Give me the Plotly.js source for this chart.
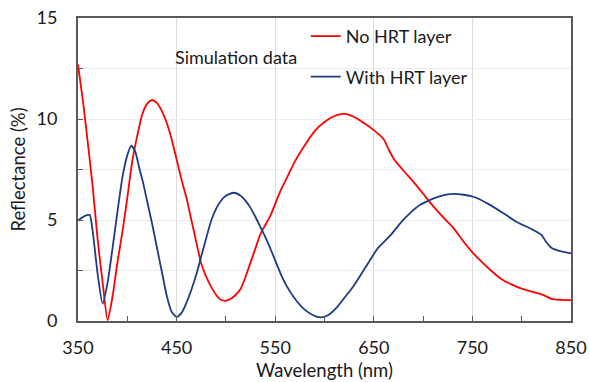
<!DOCTYPE html>
<html>
<head>
<meta charset="utf-8">
<script src="https://cdn.plot.ly/plotly-3.0.1.min.js"></script>
<style>html,body{margin:0;padding:0;background:#fff;}#chart{width:589px;height:382px;}</style>
</head>
<body>
<div id="chart"></div>
<script>
// Wavelength (nm) and reflectance (%)
const redWl = [350,355,360,365,370,375,380,385,390,395,400,405,410,415,420,425,430,435,440,445,450,455,460,465,470,475,480,485,490,495,500,505,510,515,520,525,530,535,540,545,550,555,560,570,580,590,600,610,620,630,640,650,660,665,670,680,690,700,710,720,730,740,750,760,770,780,790,800,810,820,825,830,840,850];
const redR  = [12.7,10.9,8.8,6.6,4.0,1.9,0.05,1.2,2.9,4.4,6.1,7.9,9.15,10.2,10.75,10.94,10.8,10.4,9.8,9.0,8.0,7.0,6.1,5.0,3.9,2.85,2.2,1.7,1.3,1.05,1.0,1.1,1.3,1.6,2.2,2.9,3.6,4.3,4.75,5.2,5.8,6.4,6.9,7.9,8.7,9.4,9.85,10.15,10.25,10.1,9.8,9.45,9.0,8.5,8.05,7.45,6.9,6.3,5.7,5.15,4.65,4.0,3.4,2.9,2.45,2.05,1.8,1.6,1.45,1.32,1.22,1.1,1.05,1.03];

const blueWl = [350,355,360,362,365,370,375,380,385,390,395,400,404,408,412,416,420,425,430,435,440,445,450,455,460,465,470,475,480,485,490,495,500,508,515,520,525,530,535,540,545,550,555,562,570,579,588,596,604,613,621,629,637,646,654,662,668,677,687,697,705,715,725,731,741,751,766,781,795,810,820,825,830,840,850];
const blueR  = [4.97,5.15,5.25,5.25,4.4,2.3,0.85,1.9,3.6,5.4,7.1,8.2,8.68,8.4,7.6,6.85,5.95,4.85,3.65,2.45,1.25,0.45,0.2,0.4,0.9,1.55,2.3,3.2,4.1,4.95,5.55,5.95,6.2,6.35,6.2,5.95,5.6,5.15,4.65,4.15,3.6,3.0,2.4,1.7,1.1,0.6,0.3,0.18,0.3,0.7,1.2,1.7,2.3,3.0,3.6,4.0,4.3,4.85,5.35,5.75,5.95,6.15,6.27,6.29,6.25,6.15,5.8,5.35,4.9,4.55,4.26,3.9,3.63,3.45,3.35];

const xTicks = [350,450,550,650,750,850];
const yTicks = [0,5,10,15];
const names = ["No HRT layer","With HRT layer"];

const fontFam = "Lato, 'Open Sans', sans-serif";
const txt = "#1a1a1a";

const traces = [
  {x: redWl, y: redR, name: names[0], mode: "lines", legendgroup: "a",
   line: {color: "#ff0000", width: 1.8, shape: "spline", smoothing: 0.6}},
  {x: blueWl, y: blueR, name: names[1], mode: "lines", legendgroup: "b",
   line: {color: "#1f3b82", width: 1.8, shape: "spline", smoothing: 0.6}}
];

const layout = {
  width: 589, height: 382,
  margin: {l: 78, r: 18, t: 18, b: 61},
  paper_bgcolor: "#fff", plot_bgcolor: "#fff",
  font: {family: fontFam, color: txt, size: 18},
  showlegend: true,
  legend: {x: 0.462, y: 1.0, xanchor: "left", yanchor: "top",
           bgcolor: "rgba(0,0,0,0)", traceorder: "grouped", tracegroupgap: 14,
           font: {family: fontFam, size: 18, color: txt}, itemwidth: 30},
  xaxis: {
    range: [350, 850], tickvals: xTicks, ticktext: xTicks.map(String),
    ticks: "inside", ticklen: 5, tickcolor: "#595959", tickwidth: 1,
    showgrid: true, gridcolor: "#dcdcdc", gridwidth: 1,
    showline: true, linecolor: "#595959", linewidth: 2, mirror: true,
    zeroline: false, ticklabelstandoff: 9,
    tickfont: {size: 18, family: fontFam, color: txt},
    minor: {dtick: 50, tick0: 350, ticks: "inside", ticklen: 5, tickcolor: "#595959", showgrid: false},
    title: {text: "Wavelength (nm)", font: {size: 18.5, family: fontFam, color: txt}, standoff: 7}
  },
  yaxis: {
    range: [0, 15], tickvals: yTicks, ticktext: yTicks.map(String),
    ticks: "inside", ticklen: 5, tickcolor: "#595959", tickwidth: 1,
    showgrid: true, gridcolor: "#ececec", gridwidth: 1,
    showline: true, linecolor: "#595959", linewidth: 2, mirror: true,
    zeroline: false, ticklabelstandoff: 15,
    tickfont: {size: 18, family: fontFam, color: txt},
    minor: {dtick: 2.5, tick0: 0, ticks: "inside", ticklen: 5, tickcolor: "#595959", showgrid: true, gridcolor: "#ececec"},
    title: {text: "Reflectance (%)", font: {size: 18.5, family: fontFam, color: txt}, standoff: 6}
  },
  annotations: [
    {text: "Simulation data", xref: "x", yref: "y", x: 510, y: 13.05, showarrow: false,
     xanchor: "center", yanchor: "middle", font: {size: 18, family: fontFam, color: txt}}
  ]
};

Plotly.newPlot("chart", traces, layout, {displayModeBar: false, staticPlot: true});
</script>
</body>
</html>
